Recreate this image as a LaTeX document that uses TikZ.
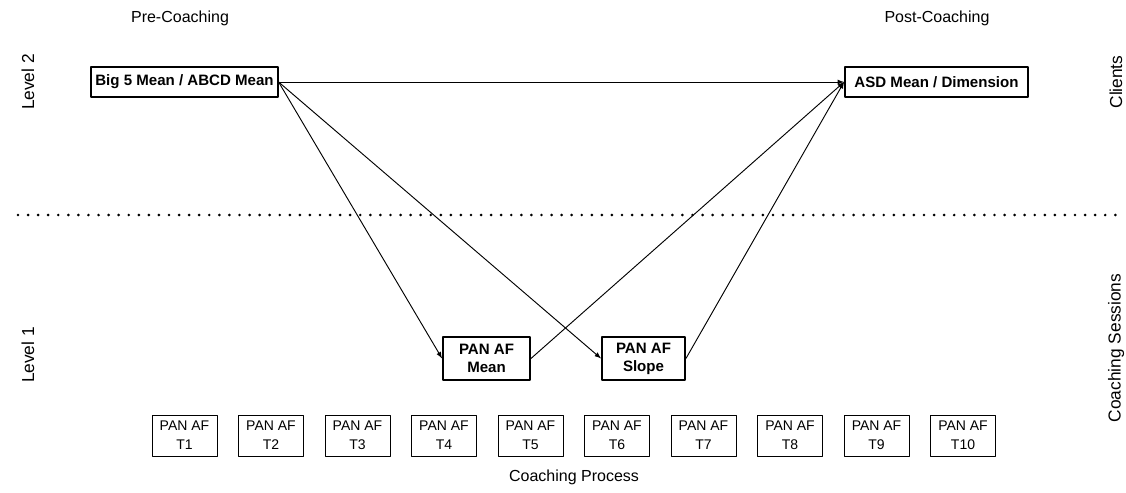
\documentclass[tikz,border=0pt]{standalone}
\usepackage{fontspec}
\setmainfont{Liberation Sans}
\tikzset{
  bigbox/.style={draw, line width=1.4pt, font=\fontsize{11.3}{13.5}\selectfont\bfseries, inner sep=3pt, align=center},
  tbox/.style={draw, line width=0.5pt, font=\fontsize{10.5}{14}\selectfont, minimum width=65*0.75pt, minimum height=41*0.75pt, align=center, inner sep=1pt},
  lbl/.style={font=\fontsize{12}{14}\selectfont},
  sidelbl/.style={font=\fontsize{13}{15}\selectfont, rotate=90},
}
\begin{document}
\begin{tikzpicture}[>=latex, x=0.75pt, y=-0.75pt, line join=round]
  \useasboundingbox (0,0) rectangle (1126,492);

  % Headings
  \node[lbl] (pre) at (180,18) {Pre-Coaching};
  \node[lbl] (post) at (937,18) {Post-Coaching};
  \node[sidelbl] (lev2) at (28,82) {Level 2};
  \node[sidelbl] (lev1) at (28,355) {Level 1};
  \node[sidelbl] (cli) at (1116,82) {Clients};
  \node[sidelbl] (ses) at (1116,348) {Coaching Sessions};

  % Separator
  \draw[line width=2.2pt, line cap=round, dash pattern=on 0pt off 7.55pt] (18,215) -- (1120,215);

  % Level 2 boxes
  \node[bigbox, minimum width=185*0.75pt, minimum height=30*0.75pt] (big) at (184.5,82) {Big 5 Mean / ABCD Mean};
  \node[bigbox, minimum width=183*0.75pt, minimum height=30*0.75pt] (asd) at (936.5,82) {ASD Mean / Dimension};

  % Level 1 boxes
  \node[bigbox, minimum width=87*0.75pt, minimum height=43*0.75pt] (mean) at (486.5,358.5) {PAN AF\\Mean};
  \node[bigbox, minimum width=83*0.75pt, minimum height=43*0.75pt] (slope) at (643.5,358.5) {PAN AF\\Slope};

  % Sessions
  \foreach \i in {1,...,10}
    \node[tbox] (t\i) at ({184.5+86.5*(\i-1)},435.5) {PAN AF\\T\i};
  \node[lbl] (proc) at (574,477) {Coaching Process};

  % Paths
  \draw[->, line width=0.7pt] (big.east) -- (asd.west);
  \draw[->, line width=0.7pt] (big.east) -- (mean.west);
  \draw[->, line width=0.7pt] (big.east) -- (slope.west);
  \draw[->, line width=0.7pt] (mean.east) -- (asd.west);
  \draw[->, line width=0.7pt] (slope.east) -- (asd.west);
\end{tikzpicture}
\end{document}
